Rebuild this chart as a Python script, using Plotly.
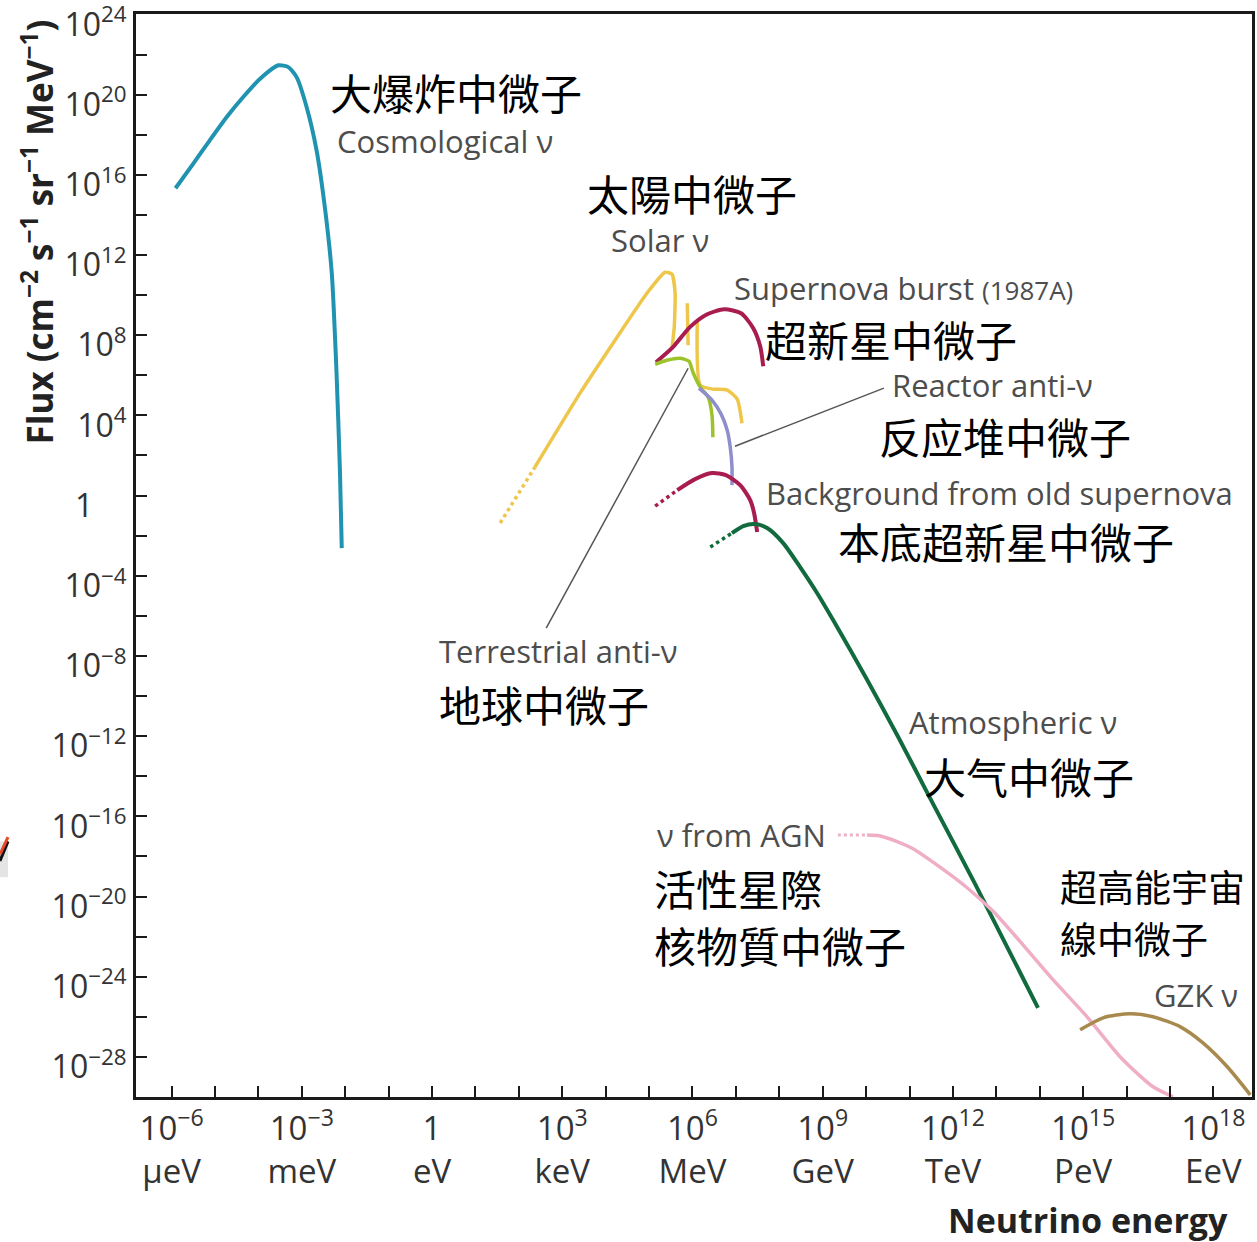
import numpy as np
import plotly.graph_objects as go

# ---- spectra: log10(E / eV) and log10(flux) sample points ----
cosmo_logE = [-5.91, -5.50, -5.12, -4.73, -4.35, -3.96, -3.54, -3.31, -3.12, -2.89, -2.66, -2.47, -2.31, -2.20, -2.12, -2.08]
cosmo_logF = [15.33, 16.56, 17.72, 18.88, 19.88, 20.79, 21.46, 21.37, 20.87, 19.38, 17.22, 14.39, 11.09, 6.10, 1.12, -2.62]

solar_dot_logE = [1.57, 2.37]
solar_dot_logF = [-1.37, 1.42]
solar_pp_logE = [2.37, 3.41, 4.17, 4.95, 5.37, 5.53, 5.60, 5.58, 5.53]
solar_pp_logF = [1.42, 5.11, 7.60, 10.09, 11.14, 11.04, 10.09, 8.40, 7.40]
solar_line_logE = [5.88, 5.90]
solar_line_logF = [9.59, 7.50]
solar_b8_logE = [6.11, 6.18, 6.47, 6.80, 7.03, 7.14]
solar_b8_logF = [8.65, 5.50, 5.31, 5.26, 4.81, 3.61]

sn_logE = [5.16, 5.55, 5.94, 6.34, 6.73, 7.12, 7.40, 7.56, 7.63]
sn_logF = [6.65, 7.40, 8.40, 9.04, 9.29, 9.09, 8.35, 7.45, 6.45]

terr_logE = [5.14, 5.41, 5.71, 5.92, 6.01, 6.18, 6.36, 6.45, 6.47]
terr_logF = [6.55, 6.75, 6.85, 6.70, 6.15, 5.41, 4.91, 4.01, 2.91]

reactor_logE = [6.15, 6.45, 6.66, 6.80, 6.87, 6.91, 6.91]
reactor_logF = [5.36, 4.76, 4.06, 3.26, 2.41, 1.42, 0.52]

bgsn_dot_logE = [5.14, 5.65]
bgsn_dot_logF = [-0.53, 0.27]
bgsn_logE = [5.65, 6.06, 6.45, 6.77, 7.10, 7.33, 7.42, 7.49]
bgsn_logF = [0.27, 0.82, 1.12, 1.02, 0.52, -0.23, -0.88, -1.82]

atm_dot_logE = [6.41, 6.91]
atm_dot_logF = [-2.57, -1.87]
atm_logE = [6.91, 7.17, 7.44, 7.72, 8.09, 8.48, 8.87, 9.24, 10.00, 10.74, 11.47, 12.51, 13.96]
atm_logF = [-1.87, -1.52, -1.42, -1.62, -2.37, -3.57, -4.86, -6.21, -9.10, -12.04, -15.08, -19.37, -25.55]

agn_dot_logE = [9.35, 10.02]
agn_dot_logF = [-16.93, -16.93]
agn_logE = [10.02, 10.30, 10.70, 11.08, 11.71, 12.32, 12.93, 13.55, 14.31, 15.09, 15.85, 16.61, 17.07]
agn_logF = [-16.93, -16.97, -17.25, -17.62, -18.55, -19.55, -20.75, -22.25, -24.16, -26.00, -27.99, -29.49, -29.99]

gzk_logE = [14.93, 15.46, 16.08, 16.61, 17.24, 17.76, 18.32, 18.85]
gzk_logF = [-26.65, -26.05, -25.85, -26.00, -26.50, -27.30, -28.49, -29.89]

# leader lines from labels to curves
terr_ptr_logE = [2.63, 5.90]
terr_ptr_logF = [-6.61, 6.35]
reactor_ptr_logE = [6.98, 10.41]
reactor_ptr_logF = [2.46, 5.36]

# ---- axis ticks ----
x_major_exps = [-6, -3, 0, 3, 6, 9, 12, 15, 18]
x_major_text = ["10<sup>−6</sup><br>μeV", "10<sup>−3</sup><br>meV", "1<br>eV",
                "10<sup>3</sup><br>keV", "10<sup>6</sup><br>MeV", "10<sup>9</sup><br>GeV",
                "10<sup>12</sup><br>TeV", "10<sup>15</sup><br>PeV", "10<sup>18</sup><br>EeV"]
x_minor_exps = [k for k in range(-6, 19) if k not in x_major_exps]
y_major_exps = list(range(-28, 25, 4))
y_major_text = ["1\u00a0\u00a0\u00a0\u00a0" if k == 0 else f"10<sup>{k}</sup>".replace("-", "−")
                for k in y_major_exps]
y_minor_exps = list(range(-26, 24, 4))

# ---- labels: (text, logE, logF, kind) ----
labels = [
    ("大爆炸中微子", -2.40, 20.15, "zh"),
    ("Cosmological ν", -2.24, 17.70, "en"),
    ("太陽中微子", 3.53, 15.14, "zh"),
    ("Solar ν", 4.08, 12.73, "en"),
    ("Supernova burst <span style='font-size:26px'>(1987A)</span>", 6.91, 10.36, "en"),
    ("超新星中微子", 7.63, 7.85, "zh"),
    ("Reactor anti-ν", 10.55, 5.51, "en"),
    ("反应堆中微子", 10.25, 3.01, "zh"),
    ("Background from old supernova", 7.65, 0.12, "en"),
    ("本底超新星中微子", 9.31, -2.22, "zh"),
    ("Terrestrial anti-ν", 0.12, -7.75, "en"),
    ("地球中微子", 0.12, -10.35, "zh"),
    ("Atmospheric ν", 10.94, -11.29, "en"),
    ("大气中微子", 11.29, -13.94, "zh"),
    ("ν from AGN", 5.14, -16.93, "en"),
    ("活性星際", 5.07, -19.57, "zh"),
    ("核物質中微子", 5.07, -22.41, "zh"),
    ("超高能宇宙", 14.42, -19.50, "zh2"),
    ("線中微子", 14.42, -22.06, "zh2"),
    ("GZK ν", 16.59, -24.90, "en"),
]

fig = go.Figure()


def add_curve(logE, logF, color, width=4, dash="solid", smooth=0.7):
    fig.add_trace(go.Scatter(
        x=10 ** np.array(logE), y=10 ** np.array(logF), mode="lines",
        line=dict(color=color, width=width, dash=dash, shape="spline", smoothing=smooth),
        showlegend=False, hoverinfo="skip"))


add_curve(cosmo_logE, cosmo_logF, "#1f93b0", 4, smooth=0.6)
add_curve(solar_dot_logE, solar_dot_logF, "#edc64a", 3.5, "dot")
add_curve(solar_pp_logE, solar_pp_logF, "#edc64a", 3.5, smooth=0.5)
add_curve(solar_line_logE, solar_line_logF, "#edc64a", 3.5)
add_curve(solar_b8_logE, solar_b8_logF, "#edc64a", 3.5, smooth=0.6)
add_curve(sn_logE, sn_logF, "#a91c50", 4)
add_curve(terr_logE, terr_logF, "#9dc32a", 3.5, smooth=0.6)
add_curve(reactor_logE, reactor_logF, "#8e8ecc", 3.5)
add_curve(bgsn_dot_logE, bgsn_dot_logF, "#a91c50", 3.5, "dot")
add_curve(bgsn_logE, bgsn_logF, "#a91c50", 4)
add_curve(atm_dot_logE, atm_dot_logF, "#116b3e", 3.5, "dot")
add_curve(atm_logE, atm_logF, "#116b3e", 4)
add_curve(agn_dot_logE, agn_dot_logF, "#eeb1c6", 3, "dot")
add_curve(agn_logE, agn_logF, "#f0aec6", 3.5)
add_curve(gzk_logE, gzk_logF, "#a98a4e", 3.5)
add_curve(terr_ptr_logE, terr_ptr_logF, "#555555", 1.5)
add_curve(reactor_ptr_logE, reactor_ptr_logF, "#555555", 1.5)

label_fonts = {
    "en": dict(family="Open Sans", size=31, color="#4d4d4d"),
    "zh": dict(family="Noto Sans CJK SC", size=42, color="#000000"),
    "zh2": dict(family="Noto Sans CJK SC", size=37, color="#000000"),
}
for text, lx, ly, kind in labels:
    fig.add_annotation(x=lx, y=ly, xref="x", yref="y", text=text, showarrow=False,
                       xanchor="left", yanchor="middle", font=label_fonts[kind])

# axis titles
fig.add_annotation(x=-0.088, y=0.799, xref="paper", yref="paper", textangle=-90, showarrow=False,
                   text="Flux (cm<sup>−2</sup> s<sup>−1</sup> sr<sup>−1</sup> MeV<sup>−1</sup>)",
                   font=dict(family="Open Sans", size=35, color="#222222", weight="bold"),
                   xanchor="center", yanchor="middle")
fig.add_annotation(x=0.853, y=-0.114, xref="paper", yref="paper", showarrow=False,
                   text="Neutrino energy",
                   font=dict(family="Open Sans", size=34, color="#222222", weight="bold"),
                   xanchor="center", yanchor="middle")

# small clipped graphic at the far left edge
fig.add_shape(type="rect", xref="paper", yref="paper", x0=-0.1219, x1=-0.1147, y0=0.203, y1=0.236,
              fillcolor="#e4e4e4", line=dict(width=0))
fig.add_shape(type="line", xref="paper", yref="paper", x0=-0.1219, y0=0.218, x1=-0.1147, y1=0.236,
              line=dict(color="#111111", width=3))
fig.add_shape(type="line", xref="paper", yref="paper", x0=-0.1219, y0=0.224, x1=-0.1147, y1=0.240,
              line=dict(color="#e8482a", width=3))

tick_font = dict(family="Open Sans", size=32, color="#333333")
fig.update_xaxes(
    type="log", range=[-6.82, 18.89],
    tickmode="array", tickvals=[10.0 ** k for k in x_major_exps], ticktext=x_major_text,
    ticks="inside", ticklen=11, tickwidth=2, tickcolor="#1a1a1a",
    minor=dict(tickmode="array", tickvals=[10.0 ** k for k in x_minor_exps],
               ticks="inside", ticklen=11, tickwidth=2, tickcolor="#1a1a1a", showgrid=False),
    showline=True, linewidth=3, linecolor="#1a1a1a", mirror=True,
    showgrid=False, zeroline=False, tickfont=dict(family="Open Sans", size=33, color="#333333"),
    ticklabeloverflow="allow", automargin=False,
)
fig.update_yaxes(
    type="log", range=[-30, 24.02],
    tickmode="array", tickvals=[10.0 ** k for k in y_major_exps], ticktext=y_major_text,
    ticks="inside", ticklen=11, tickwidth=2, tickcolor="#1a1a1a",
    minor=dict(tickmode="array", tickvals=[10.0 ** k for k in y_minor_exps],
               ticks="inside", ticklen=11, tickwidth=2, tickcolor="#1a1a1a", showgrid=False),
    showline=True, linewidth=3, linecolor="#1a1a1a", mirror=True,
    showgrid=False, zeroline=False, tickfont=tick_font,
    ticklabeloverflow="allow", automargin=False, ticklabelshift=10,
)

fig.update_layout(
    width=1257, height=1242,
    margin=dict(l=136, r=5, t=14, b=145),
    paper_bgcolor="white", plot_bgcolor="white",
    showlegend=False,
)

fig.write_html("out.html")
